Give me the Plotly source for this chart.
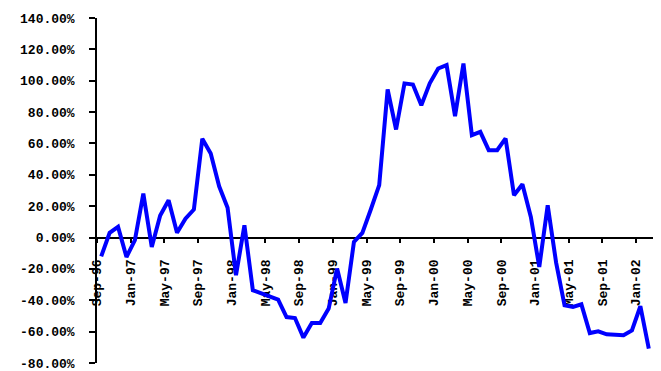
import plotly.graph_objects as go
import pandas as pd

# Monthly return series, Sep-96 .. Feb-02 (percent)
months = pd.date_range("1996-09-01", periods=66, freq="MS").strftime("%b-%y").tolist()
returns = [
    -12.0, 3.0, 6.8, -12.4, -1.7, 28.0, -6.0, 14.0, 23.8, 3.0, 12.0, 17.9,
    63.0, 53.6, 32.7, 19.0, -24.0, 7.8, -33.6, -35.7, -37.9, -39.6, -50.7, -51.3,
    -63.8, -54.5, -54.5, -45.3, -19.8, -41.7, -2.8, 3.0, 17.9, 33.4, 94.4, 68.9,
    98.3, 97.6, 84.4, 98.3, 107.8, 110.0, 77.4, 111.0, 65.3, 67.4, 55.7, 55.7,
    63.2, 27.0, 34.0, 13.1, -18.8, 20.6, -16.0, -43.2, -44.3, -42.6, -60.9, -59.8,
    -61.7, -62.3, -62.3, -59.2, -43.8, -70.8,
]

y_ticks = [-80, -60, -40, -20, 0, 20, 40, 60, 80, 100, 120, 140]
y_labels = [f"{v:.2f}%" for v in y_ticks]

x_idx = list(range(len(months)))
x_tick_pos = [i - 0.5 for i in range(0, len(months), 4)]
x_tick_text = [months[i] for i in range(0, len(months), 4)]

font = dict(family="Liberation Mono", size=13, color="#000000", weight="bold")

fig = go.Figure(
    go.Scatter(
        x=x_idx,
        y=returns,
        mode="lines",
        line=dict(color="#0000FF", width=4),
        hoverinfo="skip",
    )
)

y_min, y_max = -80, 140
fig.update_layout(
    width=661,
    height=371,
    margin=dict(l=97, r=8, t=18, b=8, autoexpand=False),
    paper_bgcolor="white",
    plot_bgcolor="white",
    showlegend=False,
    xaxis=dict(
        range=[-0.5, len(months) - 0.5],
        anchor="free",
        position=(0 - y_min) / (y_max - y_min),
        automargin=False,
        showline=True,
        linecolor="black",
        linewidth=1.5,
        showgrid=False,
        zeroline=False,
        tickmode="array",
        tickvals=x_tick_pos,
        ticktext=x_tick_text,
        ticks="outside",
        ticklen=5,
        tickwidth=1.5,
        tickcolor="black",
        tickangle=-90,
        tickfont=font,
        ticklabelstandoff=11,
        ticklabeloverflow="allow",
        layer="below traces",
    ),
    yaxis=dict(
        range=[y_min, y_max],
        automargin=False,
        showline=True,
        linecolor="black",
        linewidth=1.5,
        showgrid=False,
        zeroline=False,
        tickmode="array",
        tickvals=y_ticks,
        ticktext=y_labels,
        ticks="outside",
        ticklen=6,
        tickwidth=1.5,
        tickcolor="black",
        tickfont=font,
        ticklabelstandoff=12,
        ticklabeloverflow="allow",
    ),
)

fig.write_html("out.html")
